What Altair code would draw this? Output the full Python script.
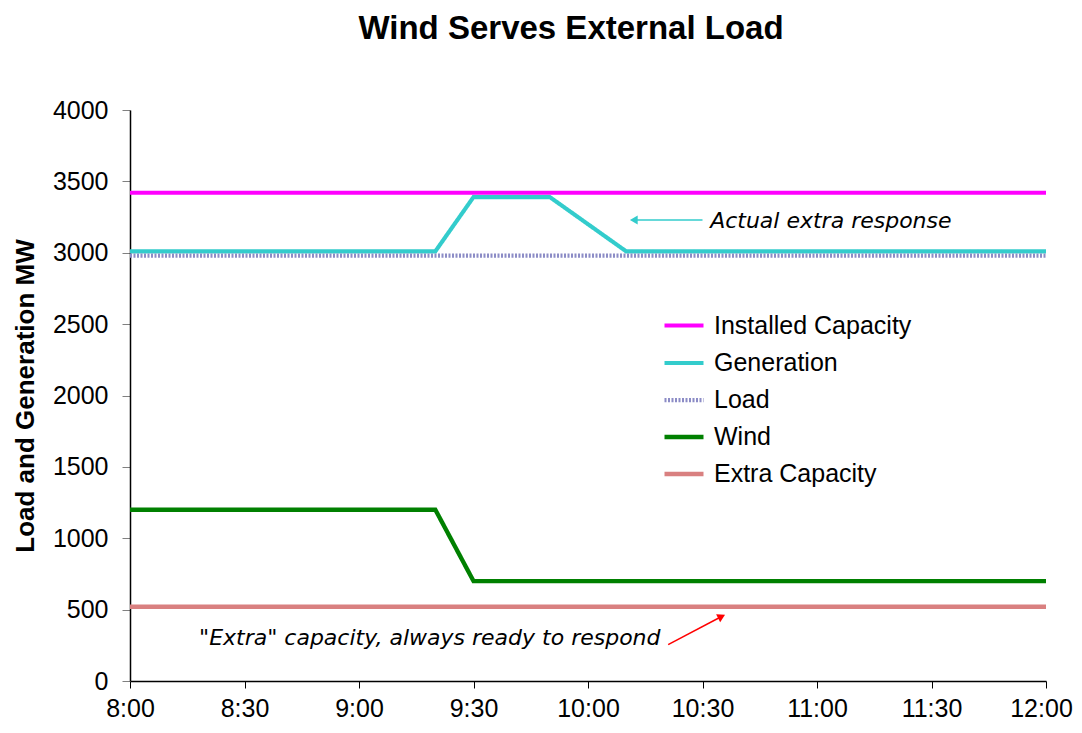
import altair as alt
import pandas as pd

times = ["8:00", "8:10", "8:20", "8:30", "8:40", "8:50", "9:00", "9:10", "9:20",
         "9:30", "9:40", "9:50", "10:00", "10:10", "10:20", "10:30", "10:40", "10:50",
         "11:00", "11:10", "11:20", "11:30", "11:40", "11:50", "12:00"]
installed = [3420] * 25
generation = [3010] * 9 + [3390, 3390, 3390, 3200] + [3010] * 12
load = [2980] * 25
wind = [1200] * 9 + [700] * 16
extra = [520] * 25

series_names = ["Installed Capacity", "Generation", "Load", "Wind", "Extra Capacity"]
series_vals = [installed, generation, load, wind, extra]
colors = ["#ff00ff", "#33cccc", "#8c8cc6", "#008000", "#d98080"]
widths = [4, 4.5, 6, 5, 7]
dashes = [[1, 0], [1, 0], [2, 1.5], [1, 0], [1, 0]]

tick_labels = ["8:00", "8:30", "9:00", "9:30", "10:00", "10:30", "11:00", "11:30", "12:00"]


def to_min(t):
    h, m = t.split(":")
    return int(h) * 60 + int(m)


rows = []
for name, vals in zip(series_names, series_vals):
    for t, v in zip(times, vals):
        rows.append({"t": to_min(t), "series": name, "value": v})
df = pd.DataFrame(rows)
draw_order = {"Extra Capacity": 0, "Load": 1, "Wind": 2, "Installed Capacity": 3, "Generation": 4}
df["order"] = df["series"].map(draw_order)

xscale = alt.Scale(domain=[480, 720], nice=False, zero=False)
yscale = alt.Scale(domain=[0, 4000], nice=False)

label_expr = "floor(datum.value/60) + ':' + (datum.value%60 < 10 ? '0' : '') + (datum.value%60)"

lines = alt.Chart(df).mark_line(strokeCap="butt", strokeJoin="miter").encode(
    x=alt.X("t:Q", scale=xscale, title=None,
            axis=alt.Axis(values=[to_min(t) for t in tick_labels], labelExpr=label_expr,
                          tickSize=7, labelPadding=8, grid=False, labelFlush=False,
                          labelOffset={"expr": "datum.value >= 720 ? -5 : 0"},
                          domainColor="#000000", tickColor="#000000")),
    y=alt.Y("value:Q", scale=yscale, title="Load and Generation MW",
            axis=alt.Axis(values=list(range(0, 4001, 500)), format="d", tickSize=8,
                          labelPadding=14, grid=False, titlePadding=14,
                          domainColor="#000000", tickColor="#808080")),
    color=alt.Color("series:N", scale=alt.Scale(domain=series_names, range=colors),
                    legend=alt.Legend(title=None, orient="none", legendX=532, legendY=194,
                                      symbolType="stroke", symbolSize=1521,
                                      symbolStrokeWidth=5, labelFontSize=25,
                                      labelFont="Liberation Sans",
                                      labelOffset=8, labelLimit=400, labelColor="#000000")),
    strokeWidth=alt.StrokeWidth("series:N", scale=alt.Scale(domain=series_names, range=widths),
                                legend=None),
    strokeDash=alt.StrokeDash("series:N", scale=alt.Scale(domain=series_names, range=dashes),
                              legend=None),
    detail="series:N",
    order="order:Q",
)

# annotations
ann_font = "Comic Sans MS, DejaVu Sans"
ann1 = pd.DataFrame({"t": [to_min("10:32")], "value": [3222], "label": ["Actual extra response"]})
ann2 = pd.DataFrame({"t": [to_min("10:19")], "value": [300],
                     "label": ["\"Extra\" capacity, always ready to respond"]})
txt1 = alt.Chart(ann1).mark_text(
    align="left", baseline="middle", fontSize=22, fontStyle="italic", font=ann_font,
    color="#000000"
).encode(x=alt.X("t:Q", scale=xscale), y=alt.Y("value:Q", scale=yscale), text="label:N")
txt2 = alt.Chart(ann2).mark_text(
    align="right", baseline="middle", fontSize=22, fontStyle="italic", font=ann_font,
    color="#000000"
).encode(x=alt.X("t:Q", scale=xscale), y=alt.Y("value:Q", scale=yscale), text="label:N")

arrow1 = pd.DataFrame({"t": [to_min("10:30")], "t2": [to_min("10:12")], "value": [3229]})
a1_line = alt.Chart(arrow1).mark_rule(color="#33cccc", strokeWidth=1.5).encode(
    x=alt.X("t:Q", scale=xscale), x2="t2:Q", y=alt.Y("value:Q", scale=yscale))
a1_head = alt.Chart(arrow1).mark_point(shape="triangle-left", filled=True, color="#33cccc",
                                       size=80, opacity=1).encode(
    x=alt.X("t2:Q", scale=xscale), y=alt.Y("value:Q", scale=yscale))

arrow2 = pd.DataFrame({"t": [to_min("10:21")], "t2": [to_min("10:35")],
                       "value": [255], "value2": [452]})
a2_line = alt.Chart(arrow2).mark_rule(color="#ff0000", strokeWidth=1.5).encode(
    x=alt.X("t:Q", scale=xscale), x2="t2:Q",
    y=alt.Y("value:Q", scale=yscale), y2="value2:Q")
a2_head = alt.Chart(arrow2).mark_point(shape="triangle-right", filled=True, color="#ff0000",
                                       size=80, opacity=1, angle=333).encode(
    x=alt.X("t2:Q", scale=xscale), y=alt.Y("value2:Q", scale=yscale))

chart = alt.layer(lines, a1_line, a1_head, a2_line, a2_head, txt1, txt2).properties(
    width=916, height=571,
    autosize=alt.AutoSizeParams(type="none"),
    padding={"left": 122, "top": 102, "right": 28, "bottom": 40},
    title=alt.TitleParams("Wind Serves External Load", fontSize=33, font="Liberation Sans",
                          fontWeight="bold", offset=52, dx=-17, anchor="middle",
                          color="#000000"),
).configure_view(stroke=None).configure_axis(
    labelFont="Liberation Sans", labelFontSize=25, labelColor="#000000",
    titleFont="Liberation Sans", titleFontSize=26, titleFontWeight="bold", titleColor="#000000",
    domainWidth=1.5,
)

chart.save("out.html", embed_options={"renderer": "svg", "actions": False})
